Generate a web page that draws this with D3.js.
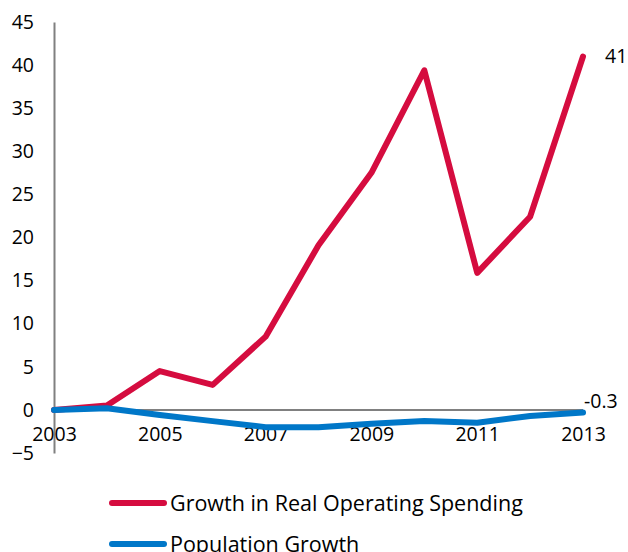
<!DOCTYPE html>
<html><head><meta charset="utf-8">
<script src="https://cdn.jsdelivr.net/npm/d3@7"></script>
<style>body{margin:0;background:#fff}svg{display:block}text{font-family:"Open Sans","DejaVu Sans",sans-serif;fill:#000}</style>
</head><body><svg id="c" width="628" height="552"></svg>
<script>
const years = [2003,2004,2005,2006,2007,2008,2009,2010,2011,2012,2013];
const spending = [0,0.5,4.5,2.9,8.5,19.1,27.5,39.4,15.9,22.4,41];
const population = [0,0.2,-0.6,-1.3,-2.0,-2.0,-1.6,-1.3,-1.5,-0.7,-0.3];
const yTicks = [-5,0,5,10,15,20,25,30,35,40,45];
const xTickLabels = [2003,2005,2007,2009,2011,2013];
const seriesNames = ["Growth in Real Operating Spending","Population Growth"];
const colors = ["#D50C3F","#0077C8"];

const svg = d3.select("#c");
const x = d3.scaleLinear().domain([2003,2013]).range([54,583]);
const y = d3.scaleLinear().domain([-5,45]).range([453,22]);

// y axis
const ya = svg.append("g").attr("transform","translate(54,0)")
  .call(d3.axisLeft(y).tickValues(yTicks).tickSize(0).tickPadding(0));
ya.select(".domain").attr("stroke","#808080").attr("stroke-width",2);
ya.selectAll("text").attr("x",-20).attr("font-size",19.5).attr("text-anchor","end")
  .style("font-family",'"Open Sans","DejaVu Sans",sans-serif').attr("fill","#000");

// zero line
svg.append("line").attr("x1",x(2003)).attr("x2",x(2013)).attr("y1",y(0)).attr("y2",y(0))
  .attr("stroke","#808080").attr("stroke-width",2);

// x labels
const xa = svg.append("g").attr("transform",`translate(0,${y(0)})`)
  .call(d3.axisBottom(x).tickValues(xTickLabels).tickFormat(d3.format("d")).tickSize(0).tickPadding(17));
xa.select(".domain").remove();
xa.selectAll("text").attr("font-size",19.5)
  .style("font-family",'"Open Sans","DejaVu Sans",sans-serif').attr("fill","#000");

const line = d3.line().x((d,i)=>x(years[i])).y(d=>y(d));
[spending,population].forEach((s,k)=>{
  svg.append("path").datum(s).attr("d",line).attr("fill","none")
    .attr("stroke",colors[k]).attr("stroke-width",6).attr("stroke-linejoin","round").attr("stroke-linecap","round");
});

// end labels
svg.append("text").attr("x",x(2013)+22).attr("y",y(spending[10])+7).attr("font-size",19.5).text(d3.format("d")(spending[10]));
svg.append("text").attr("x",x(2013)+1).attr("y",y(population[10])-4).attr("font-size",19.5).text(population[10]);

// legend
seriesNames.forEach((n,k)=>{
  const ly = 503 + k*41;
  svg.append("line").attr("x1",112).attr("x2",164).attr("y1",ly).attr("y2",ly)
    .attr("stroke",colors[k]).attr("stroke-width",6).attr("stroke-linecap","round");
  svg.append("text").attr("x",170).attr("y",ly+8).attr("font-size",21.5).text(n);
});
</script></body></html>
